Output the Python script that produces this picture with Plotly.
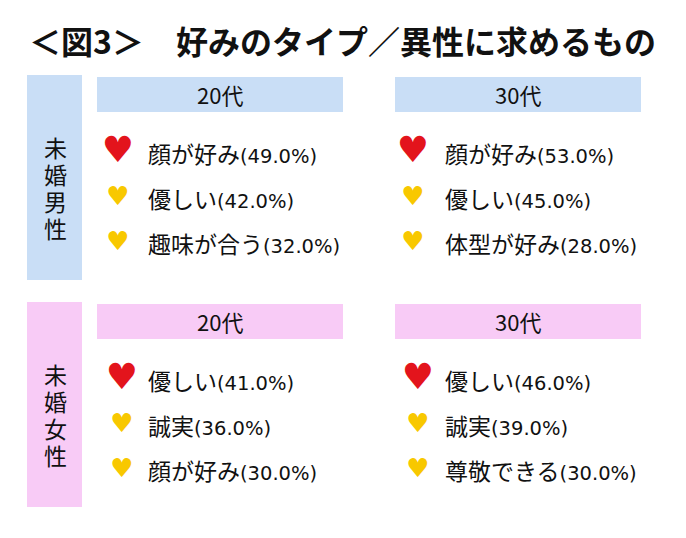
import plotly.graph_objects as go

title = "＜図3＞　好みのタイプ／異性に求めるもの"
groups = ["未婚男性", "未婚女性"]
ages = ["20代", "30代"]
labels = [
    [["顔が好み", "優しい", "趣味が合う"], ["顔が好み", "優しい", "体型が好み"]],
    [["優しい", "誠実", "顔が好み"], ["優しい", "誠実", "尊敬できる"]],
]
values = [
    [[49.0, 42.0, 32.0], [53.0, 45.0, 28.0]],
    [[41.0, 36.0, 30.0], [46.0, 39.0, 30.0]],
]

W, H = 686, 538
O = 8  # page body offset
FONT = "Noto Sans CJK JP"
fill = ["#c9def6", "#f8cbf6"]
group_top = [75, 302]
col_x = [(97, 343), (395, 641)]
heart_x = [[118, 413], [122, 418]]
text_x = [146, 443]
row_off = [78, 123, 168]

fig = go.Figure()
shapes, ann = [], []
ann.append(dict(x=27 - O, y=40 - O, text="<b>" + title + "</b>", xanchor="left", yanchor="middle",
                showarrow=False, font=dict(size=32, color="#111", family=FONT)))
for g in range(2):
    t = group_top[g] - O
    shapes.append(dict(type="rect", x0=27 - O, x1=82 - O, y0=t, y1=t + 205, fillcolor=fill[g], line_width=0, layer="below"))
    for i, ch in enumerate(groups[g]):
        ann.append(dict(x=55 - O, y=t + 72 + i * 27, text=ch, showarrow=False, xanchor="center", yanchor="middle",
                        font=dict(size=23, color="#111", family=FONT)))
    for c in range(2):
        x0, x1 = col_x[c][0] - O, col_x[c][1] - O
        shapes.append(dict(type="rect", x0=x0, x1=x1, y0=t + 2, y1=t + 37, fillcolor=fill[g], line_width=0, layer="below"))
        ann.append(dict(x=(x0 + x1) / 2, y=t + 19, text=ages[c], showarrow=False, xanchor="center", yanchor="middle",
                        font=dict(size=22, color="#111", family=FONT)))
        hx, hy, hs, hc = [], [], [], []
        for r in range(3):
            y = t + row_off[r]
            hx.append(heart_x[g][c] - O); hy.append(y)
            hs.append(36 if r == 0 else 26); hc.append("#e3141c" if r == 0 else "#f8c800")
            ann.append(dict(x=text_x[c] - O, y=y,
                            text=f"{labels[g][c][r]}<span style='font-family:DejaVu Sans;font-size:19.5px'>({values[g][c][r]:.1f}%)</span>",
                            showarrow=False, xanchor="left", yanchor="middle",
                            font=dict(size=23, color="#111", family=FONT)))
        fig.add_trace(go.Scatter(x=hx, y=hy, mode="text", text=["♥"] * 3,
                                 textfont=dict(size=hs, color=hc, family="DejaVu Sans"), hoverinfo="skip"))

fig.update_layout(width=W, height=H, margin=dict(l=0, r=0, t=0, b=0), showlegend=False,
                  plot_bgcolor="white", paper_bgcolor="white", shapes=shapes, annotations=ann,
                  xaxis=dict(range=[0, W], visible=False, fixedrange=True),
                  yaxis=dict(range=[H, 0], visible=False, fixedrange=True))
fig.write_html("out.html")
